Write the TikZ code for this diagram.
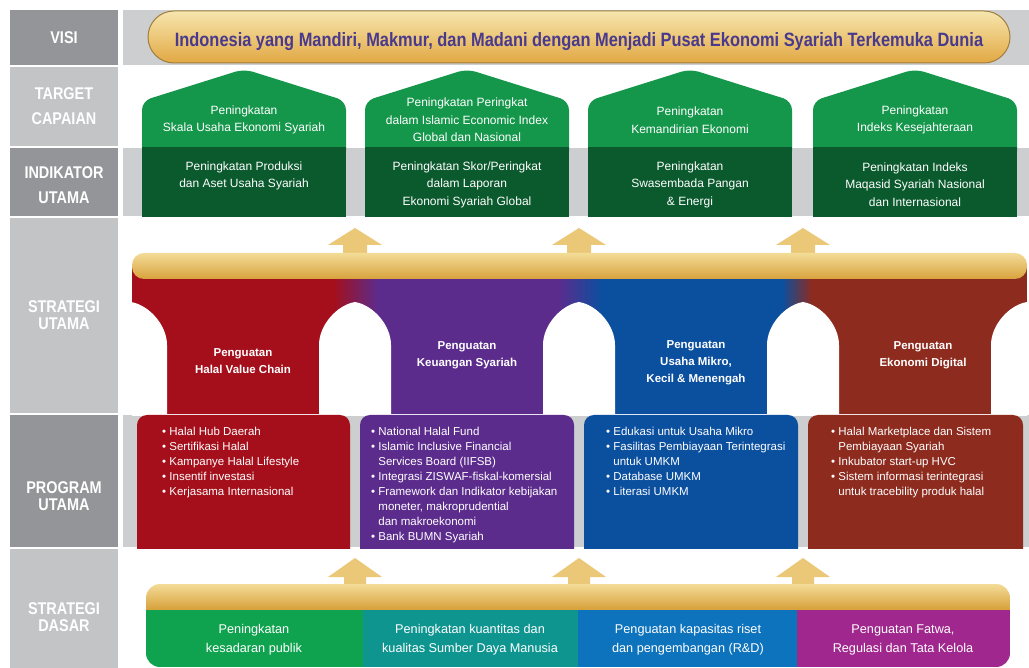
\documentclass[tikz,border=0pt]{standalone}
\usepackage{fontspec}
\setmainfont{Liberation Sans}
\newfontfamily\condf[FakeStretch=0.85]{Liberation Sans}
\definecolor{gdark}{HTML}{939598}
\definecolor{glight}{HTML}{C3C4C6}
\definecolor{gband}{HTML}{CDCED0}
\definecolor{hgreen}{HTML}{15974B}
\definecolor{hdark}{HTML}{0B5A2E}
\definecolor{goldA}{HTML}{F3DC98}
\definecolor{goldB}{HTML}{D8A23C}
\definecolor{arrowc}{HTML}{EBC878}
\definecolor{cred}{HTML}{A40F1B}
\definecolor{cpurple}{HTML}{5C2C8D}
\definecolor{cblue}{HTML}{0B4F9F}
\definecolor{cbrown}{HTML}{8D2B1F}
\definecolor{dgreen}{HTML}{10A34F}
\definecolor{dteal}{HTML}{0F9590}
\definecolor{dblue}{HTML}{0D73BC}
\definecolor{dmag}{HTML}{A0278D}
\definecolor{visitext}{HTML}{4A3A8E}
\definecolor{visiA}{HTML}{F6E6AE}
\definecolor{visiM}{HTML}{FBF1CF}
\definecolor{visiB}{HTML}{E2A843}
\definecolor{visiE}{HTML}{A07E3E}
\begin{document}
\begin{tikzpicture}[x=1pt,y=-1pt,
  lbl/.style={font=\condf\bfseries\fontsize{17}{17.5}\selectfont,text=white,align=center,inner sep=0pt},
  htxt/.style={font=\fontsize{12}{17.5}\selectfont,text=white,align=center,inner sep=0pt},
  stxt/.style={font=\bfseries\fontsize{11.5}{17}\selectfont,text=white,align=center,inner sep=0pt},
  ptxt/.style={font=\fontsize{11.5}{15}\selectfont,text=white,align=left,inner sep=0pt,anchor=north west},
  dtxt/.style={font=\fontsize{12.7}{19}\selectfont,text=white,align=center,inner sep=0pt}]
\useasboundingbox (0,0) rectangle (1029,668);
\fill[white] (0,0) rectangle (1029,668);
% left label column
\fill[gdark] (10,10) rectangle (118,65);
\fill[glight] (10,67) rectangle (118,146);
\fill[gdark] (10,148) rectangle (118,216);
\fill[glight] (10,218) rectangle (118,413);
\fill[gdark] (10,415) rectangle (118,547);
\fill[glight] (10,549) rectangle (118,668);
% grey bands
\fill[gband] (123,10) rectangle (1029,65);
\fill[gband] (123,148) rectangle (1029,216);
\fill[gband] (123,415) rectangle (1029,547);
% labels
\node[lbl] (lvisi) at (64,38) {VISI};
\node[lbl] (ltarget) at (64,106) {TARGET\\[7pt]CAPAIAN};
\node[lbl] (lindik) at (64,185) {INDIKATOR\\[7pt]UTAMA};
\node[lbl] (lstrat) at (64,315) {STRATEGI\\UTAMA};
\node[lbl] (lprog) at (64,496) {PROGRAM\\UTAMA};
\node[lbl] (ldasar) at (64,617) {STRATEGI\\DASAR};
% visi banner
\shade[top color=visiA,middle color=visiM,bottom color=visiB,rounded corners=26] (148,11) rectangle (1010,63);
\draw[visiE,line width=1pt,rounded corners=26] (148,11) rectangle (1010,63);
\node[font=\condf\bfseries\fontsize{19.3}{22}\selectfont,text=visitext,inner sep=0pt,anchor=base] (visi) at (579,47) {Indonesia yang Mandiri, Makmur, dan Madani dengan Menjadi Pusat Ekonomi Syariah Terkemuka Dunia};
% houses
\foreach \L in {142,365,588,813} {
  \fill[hgreen,rounded corners=9] (\L,160) -- (\L,101) -- (\L+102,69) -- (\L+204,101) -- (\L+204,160) -- cycle;
  \fill[hdark] (\L,147) rectangle (\L+204,217);
}
\node[htxt] (t1) at (244,120) {Peningkatan\\Skala Usaha Ekonomi Syariah};
\node[htxt] (t2) at (467,120) {Peningkatan Peringkat\\dalam Islamic Economic Index\\Global dan Nasional};
\node[htxt] (t3) at (690,120) {Peningkatan\\Kemandirian Ekonomi};
\node[htxt] (t4) at (915,120) {Peningkatan\\Indeks Kesejahteraan};
\node[htxt] (i1) at (244,176) {Peningkatan Produksi\\dan Aset Usaha Syariah};
\node[htxt] (i2) at (467,184.5) {Peningkatan Skor/Peringkat\\dalam Laporan\\Ekonomi Syariah Global};
\node[htxt] (i3) at (690,184.5) {Peningkatan\\Swasembada Pangan\\\& Energi};
\node[htxt] (i4) at (915,184.5) {Peningkatan Indeks\\Maqasid Syariah Nasional\\dan Internasional};
% strategi utama band
\fill[cred] (132,268) rectangle (334,414);
\shade[left color=cred,right color=cpurple] (333,268) rectangle (378,414);
\fill[cpurple] (377,268) rectangle (559,414);
\shade[left color=cpurple,right color=cblue] (558,268) rectangle (602,414);
\fill[cblue] (601,268) rectangle (783,414);
\shade[left color=cblue,right color=cbrown] (782,268) rectangle (812,414);
\fill[cbrown] (811,268) rectangle (1027,414);
\begin{scope}
  \clip (132,268) rectangle (1027,420);
  \foreach \c in {131,355,579,803,1027}
    \fill[white] (\c-36,416) -- (\c-36,345) .. controls (\c-36,325) and (\c-18,305) .. (\c,302) .. controls (\c+18,305) and (\c+36,325) .. (\c+36,345) -- (\c+36,416) -- cycle;
\end{scope}
% arrows and bar
\foreach \c in {355,579,803}
  \fill[arrowc] (\c,228) -- (\c+27,245) -- (\c+12,245) -- (\c+12,257) -- (\c-12,257) -- (\c-12,245) -- (\c-27,245) -- cycle;
\shade[top color=goldA,bottom color=goldB,rounded corners=12] (132,253) rectangle (1027,279);
\node[stxt] (s1) at (243,361) {Penguatan\\Halal Value Chain};
\node[stxt] (s2) at (467,355) {Penguatan\\Keuangan Syariah};
\node[stxt] (s3) at (696,363) {Penguatan\\Usaha Mikro,\\Kecil \& Menengah};
\node[stxt] (s4) at (923,355) {Penguatan\\Ekonomi Digital};
% program boxes
\begin{scope}
  \clip (0,0) rectangle (1029,548);
  \fill[cred,rounded corners=10] (137,415) rectangle (350,562);
  \fill[cpurple,rounded corners=10] (360,415) rectangle (574,562);
  \fill[cblue,rounded corners=10] (584,415) rectangle (798,562);
  \fill[cbrown,rounded corners=10] (808,415) rectangle (1023,562);
\end{scope}
\node[ptxt] (p1) at (162,426.5) {\textbullet\ Halal Hub Daerah\\\textbullet\ Sertifikasi Halal\\\textbullet\ Kampanye Halal Lifestyle\\\textbullet\ Insentif investasi\\\textbullet\ Kerjasama Internasional};
\node[ptxt] (p2) at (371,426.5) {\textbullet\ National Halal Fund\\\textbullet\ Islamic Inclusive Financial\\\hphantom{\textbullet\ }Services Board (IIFSB)\\\textbullet\ Integrasi ZISWAF-fiskal-komersial\\\textbullet\ Framework dan Indikator kebijakan\\\hphantom{\textbullet\ }moneter, makroprudential\\\hphantom{\textbullet\ }dan makroekonomi\\\textbullet\ Bank BUMN Syariah};
\node[ptxt] (p3) at (606,426.5) {\textbullet\ Edukasi untuk Usaha Mikro\\\textbullet\ Fasilitas Pembiayaan Terintegrasi\\\hphantom{\textbullet\ }untuk UMKM\\\textbullet\ Database UMKM\\\textbullet\ Literasi UMKM};
\node[ptxt] (p4) at (831,426.5) {\textbullet\ Halal Marketplace dan Sistem\\\hphantom{\textbullet\ }Pembiayaan Syariah\\\textbullet\ Inkubator start-up HVC\\\textbullet\ Sistem informasi terintegrasi\\\hphantom{\textbullet\ }untuk tracebility produk halal};
% strategi dasar
\foreach \c in {355,579,803}
  \fill[arrowc] (\c,558) -- (\c+27,577) -- (\c+11,577) -- (\c+11,588) -- (\c-11,588) -- (\c-11,577) -- (\c-27,577) -- cycle;
\begin{scope}
  \clip[rounded corners=14] (146,584) rectangle (1010,667);
  \fill[dgreen] (146,600) rectangle (363,667);
  \fill[dteal] (363,600) rectangle (578,667);
  \fill[dblue] (578,600) rectangle (797,667);
  \fill[dmag] (797,600) rectangle (1010,667);
  \shade[top color=goldA,bottom color=goldB] (146,584) rectangle (1010,609);
\end{scope}
\node[dtxt] (d1) at (254,640) {Peningkatan\\kesadaran publik};
\node[dtxt] (d2) at (470,640) {Peningkatan kuantitas dan\\kualitas Sumber Daya Manusia};
\node[dtxt] (d3) at (688,640) {Penguatan kapasitas riset\\dan pengembangan (R\&D)};
\node[dtxt] (d4) at (903,640) {Penguatan Fatwa,\\Regulasi dan Tata Kelola};
\end{tikzpicture}
\end{document}
